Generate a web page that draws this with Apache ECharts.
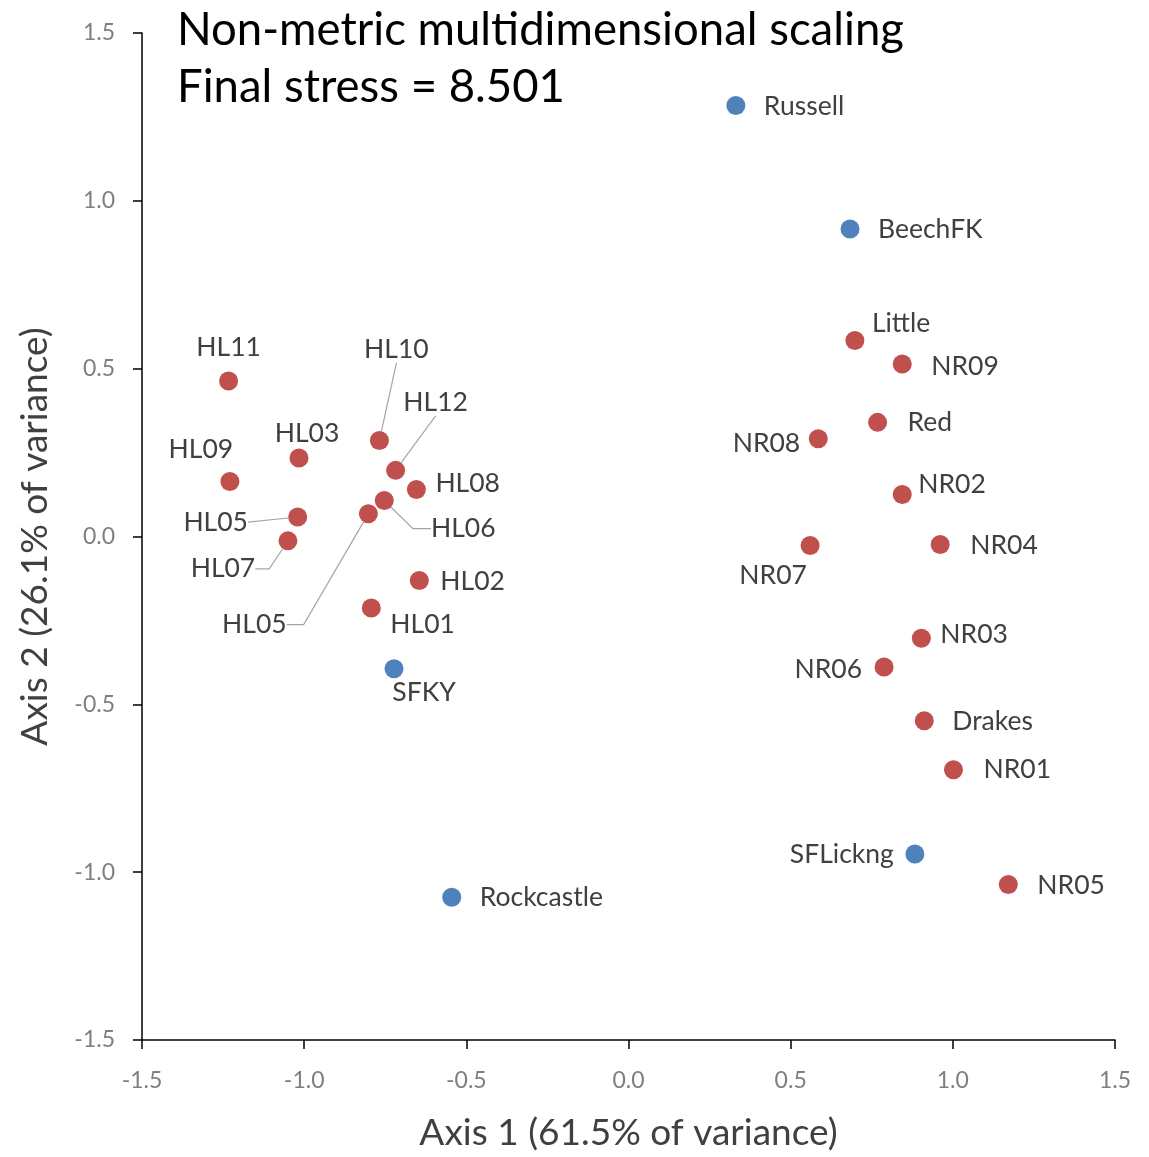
<!DOCTYPE html>
<html>
<head>
<meta charset="utf-8">
<script src="https://cdn.jsdelivr.net/npm/echarts@6/dist/echarts.min.js"></script>
<style>
html,body{margin:0;padding:0;background:#fff;}
#chart{width:1149px;height:1157px;}
</style>
</head>
<body>
<div id="chart"></div>
<script>
// ---- data ----
var blueNames = ['Russell', 'BeechFK', 'SFKY', 'Rockcastle', 'SFLickng'];
var blueX = [0.331, 0.683, -0.723, -0.545, 0.883];
var blueY = [1.284, 0.916, -0.394, -1.075, -0.946];

var redNames = ['Little', 'NR09', 'Red', 'NR08', 'NR02', 'NR04', 'NR07', 'NR03', 'NR06', 'Drakes', 'NR01', 'NR05',
  'HL11', 'HL09', 'HL03', 'HL10', 'HL12', 'HL08', 'HL06', 'HL05', 'HL05', 'HL07', 'HL02', 'HL01'];
var redX = [0.698, 0.844, 0.768, 0.585, 0.844, 0.961, 0.560, 0.903, 0.788, 0.912, 1.002, 1.171,
  -1.233, -1.229, -1.016, -0.768, -0.718, -0.654, -0.753, -0.802, -1.020, -1.050, -0.645, -0.793];
var redY = [0.584, 0.514, 0.340, 0.291, 0.125, -0.024, -0.027, -0.303, -0.389, -0.549, -0.695, -1.037,
  0.463, 0.164, 0.234, 0.286, 0.197, 0.140, 0.107, 0.068, 0.058, -0.013, -0.131, -0.213];

var xTicks = [-1.5, -1.0, -0.5, 0.0, 0.5, 1.0, 1.5];
var yTicks = [-1.5, -1.0, -0.5, 0.0, 0.5, 1.0, 1.5];

// ---- label placement (pixel offsets from point centre) ----
var bluePlace = [
  [28, 1, 'left'], [28, 0, 'left'], [30, 24, 'center'], [28, 0, 'left'], [-21, 0, 'right']
];
var redPlace = [
  [17, -17, 'left'], [29, 2, 'left'], [30, 0, 'left'], [-18, 5, 'right'], [16, -10, 'left'], [30, 1, 'left'],
  [-37, 30, 'center'], [19, -4, 'left'], [-22, 2, 'right'], [28, 1, 'left'], [30, 0, 'left'], [29, 1, 'left'],
  [0, -34, 'center'], [-29, -32, 'center'], [8, -25, 'center'],
  [17, -91, 'center', 0], [40, -68, 'center', 0], [19, -6, 'left'], [79, 28, 'center', 18],
  [-114, 111, 'center', 17], [-82, 5, 'center', 0], [-65, 28, 'center', 14], [21, 1, 'left'], [19, 16, 'left']
];

var labelColor = '#404040';
var fontFam = 'Lato, "Open Sans", sans-serif';
var padX = 3;

function build(names, xs, ys, place) {
  return names.map(function (n, i) {
    var p = place[i];
    var item = {
      name: n,
      value: [xs[i], ys[i]],
      label: { align: p[2] }
    };
    if (p.length > 3) {
      item.labelLine = { show: true, length2: p[3], lineStyle: { color: '#a6a6a6', width: 1.2 } };
    } else {
      item.labelLine = { show: false };
    }
    return item;
  });
}

var places = [bluePlace, redPlace];

function seriesDef(name, color, data) {
  return {
    name: name,
    type: 'scatter',
    symbol: 'circle',
    symbolSize: 19,
    itemStyle: { color: color, opacity: 1 },
    data: data,
    label: {
      show: true,
      position: 'inside',
      verticalAlign: 'middle',
      formatter: '{b}',
      color: labelColor,
      fontFamily: fontFam,
      fontSize: 26.5,
      padding: [2, padX]
    },
    labelLine: { show: false, lineStyle: { color: '#a6a6a6', width: 1.2 } },
    labelLayout: function (params) {
      var p = places[params.seriesIndex][params.dataIndex];
      var adj = p[2] === 'left' ? -padX : (p[2] === 'right' ? padX : 0);
      return { dx: p[0] + adj, dy: p[1], hideOverlap: false };
    },
    emphasis: { disabled: true },
    z: 3
  };
}

var chart = echarts.init(document.getElementById('chart'), null, { renderer: 'canvas' });
chart.setOption({
  animation: false,
  backgroundColor: '#ffffff',
  title: {
    text: 'Non-metric multidimensional scaling\nFinal stress = 8.501',
    left: 172,
    top: -3,
    textStyle: {
      fontFamily: fontFam,
      fontSize: 45.5,
      fontWeight: 'normal',
      color: '#000000',
      lineHeight: 57
    }
  },
  grid: { left: 142, right: 34, top: 33, bottom: 112, containLabel: false },
  xAxis: {
    type: 'value',
    min: xTicks[0],
    max: xTicks[xTicks.length - 1],
    interval: 0.5,
    name: 'Axis 1 (61.5% of variance)',
    nameLocation: 'middle',
    nameGap: 75,
    nameTextStyle: { fontFamily: fontFam, fontSize: 37, color: '#404040' },
    axisLine: { show: true, onZero: false, lineStyle: { color: '#000000', width: 1.5 } },
    axisTick: { show: true, inside: false, length: 9, lineStyle: { color: '#000000', width: 1.5 } },
    splitLine: { show: false },
    axisLabel: {
      margin: 29,
      fontFamily: fontFam,
      fontSize: 23,
      color: '#7f7f7f',
      formatter: function (v) { return v.toFixed(1); },
      showMinLabel: true, showMaxLabel: true
    }
  },
  yAxis: {
    type: 'value',
    min: yTicks[0],
    max: yTicks[yTicks.length - 1],
    interval: 0.5,
    name: 'Axis 2 (26.1% of variance)',
    nameLocation: 'middle',
    nameGap: 88,
    nameRotate: 90,
    nameTextStyle: { fontFamily: fontFam, fontSize: 37, color: '#404040' },
    axisLine: { show: true, onZero: false, lineStyle: { color: '#000000', width: 1.5 } },
    axisTick: { show: true, inside: false, length: 9, lineStyle: { color: '#000000', width: 1.5 } },
    splitLine: { show: false },
    axisLabel: {
      margin: 27,
      fontFamily: fontFam,
      fontSize: 23,
      color: '#7f7f7f',
      formatter: function (v) { return v.toFixed(1); },
      showMinLabel: true, showMaxLabel: true
    }
  },
  series: [
    seriesDef('Blue', '#4F81BD', build(blueNames, blueX, blueY, bluePlace)),
    seriesDef('Red', '#C0504D', build(redNames, redX, redY, redPlace))
  ]
});
</script>
</body>
</html>
